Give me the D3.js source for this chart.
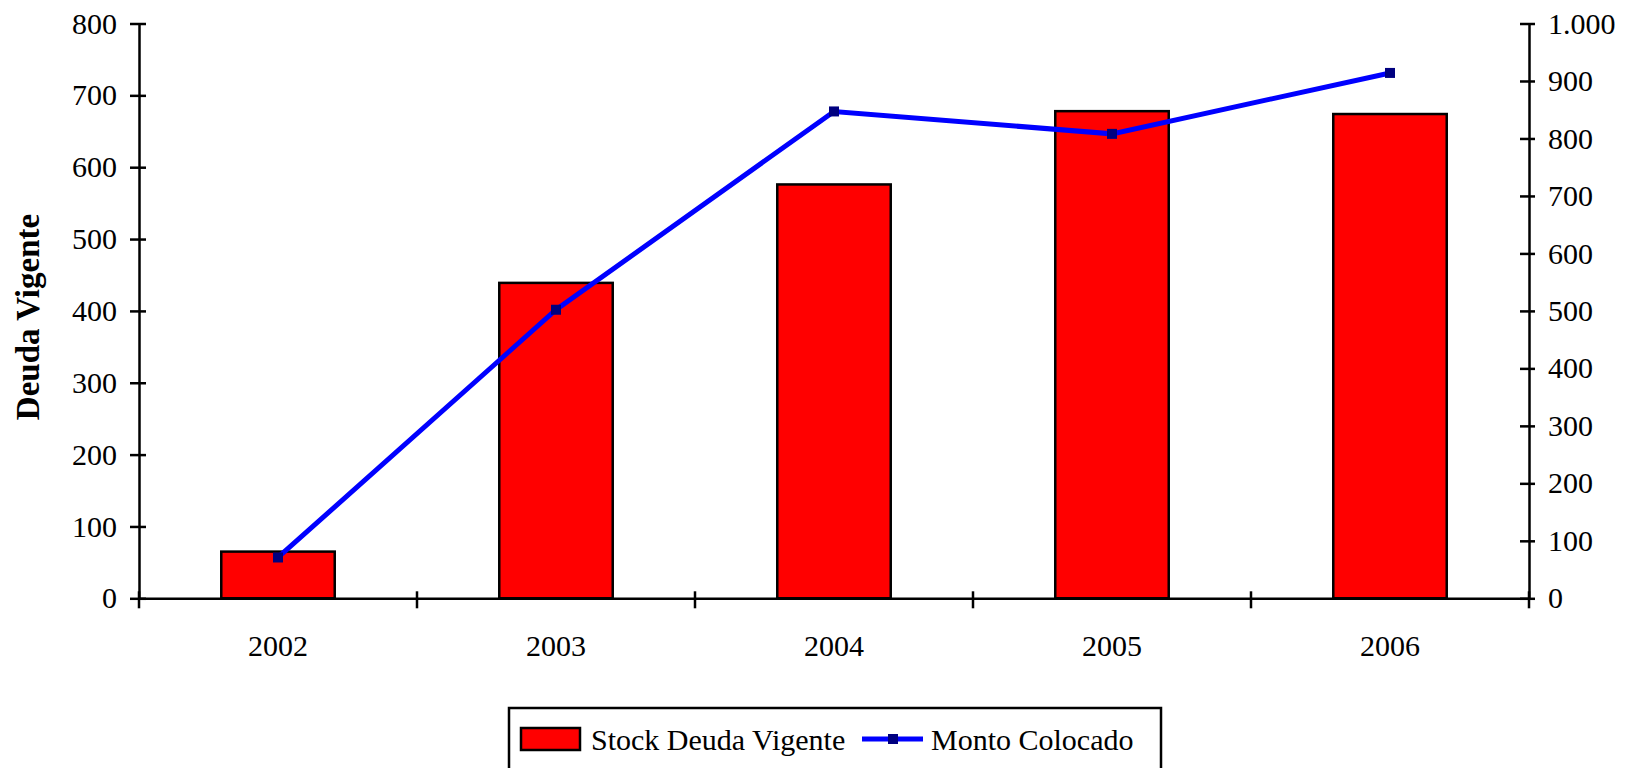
<!DOCTYPE html>
<html>
<head>
<meta charset="utf-8">
<script src="https://cdn.jsdelivr.net/npm/d3@7"></script>
<style>
  body { margin: 0; background: #fff; }
  svg text { font-family: "Liberation Serif", "Times New Roman", serif; fill: #000; }
</style>
</head>
<body>
<svg id="chart" width="1629" height="768"></svg>
<script>
(function () {

    // data
    var years = ["2002", "2003", "2004", "2005", "2006"];
    var stockDeuda = [65, 439, 576, 678, 674];     // left axis, bars
    var montoColocado = [71, 502, 847, 808, 914];  // right axis, line
    var leftTicks = [0, 100, 200, 300, 400, 500, 600, 700, 800];
    var rightTicks = [0, 100, 200, 300, 400, 500, 600, 700, 800, 900, 1000];

    var x0 = 139, x1 = 1529, yTop = 23.5, yBottom = 598.3;

    var svg = d3.select("#chart");

    // number format with "." as thousands separator
    var fmt = d3.formatLocale({ decimal: ",", thousands: ".", grouping: [3], currency: ["", ""] }).format(",");

    var x = d3.scaleBand()
        .domain(years)
        .range([x0, x1])
        .padding(0);

    var yLeft = d3.scaleLinear().domain([0, 800]).range([yBottom, yTop]);
    var yRight = d3.scaleLinear().domain([0, 1000]).range([yBottom, yTop]);

    var barW = x.bandwidth() / 2.45;

    /* bars */
    svg.selectAll(".bar")
        .data(stockDeuda)
        .enter().append("rect")
        .attr("class", "bar")
        .attr("x", function (d, i) { return x(years[i]) + x.bandwidth() / 2 - barW / 2; })
        .attr("y", function (d) { return yLeft(d); })
        .attr("width", barW)
        .attr("height", function (d) { return yBottom - yLeft(d); })
        .attr("fill", "#ff0000")
        .attr("stroke", "#000")
        .attr("stroke-width", 2.5);

    /* axes */
    var axisLeft = d3.axisLeft(yLeft).tickValues(leftTicks).tickSize(0).tickPadding(22);
    var gl = svg.append("g").attr("transform", "translate(" + x0 + ",0)").call(axisLeft);

    var axisRight = d3.axisRight(yRight).tickValues(rightTicks).tickSize(0).tickPadding(19)
        .tickFormat(function (d) { return fmt(d); });
    var gr = svg.append("g").attr("transform", "translate(" + x1 + ",0)").call(axisRight);

    var axisBottom = d3.axisBottom(x).tickSize(0).tickPadding(36);
    var gb = svg.append("g").attr("transform", "translate(0," + yBottom + ")").call(axisBottom);

    [gl, gr, gb].forEach(function (g) {
        g.select(".domain").attr("stroke", "#000").attr("stroke-width", 2.5);
        g.selectAll("text")
            .style("font-family", "Liberation Serif")
            .style("font-size", "30px")
            .attr("fill", "#000");
    });

    // crossing tick marks
    gl.selectAll(".tick").append("line")
        .attr("x1", -9).attr("x2", 7).attr("stroke", "#000").attr("stroke-width", 2.5);
    gr.selectAll(".tick").append("line")
        .attr("x1", -9).attr("x2", 6).attr("stroke", "#000").attr("stroke-width", 2.5);

    var bounds = [x0].concat(years.map(function (d) { return x(d) + x.bandwidth(); }));
    svg.selectAll(".xtick")
        .data(bounds)
        .enter().append("line")
        .attr("class", "xtick")
        .attr("x1", function (d) { return d; })
        .attr("x2", function (d) { return d; })
        .attr("y1", yBottom - 7)
        .attr("y2", yBottom + 10)
        .attr("stroke", "#000")
        .attr("stroke-width", 2.5);

    /* line series */
    var line = d3.line()
        .x(function (d, i) { return x(years[i]) + x.bandwidth() / 2; })
        .y(function (d) { return yRight(d); });

    svg.append("path")
        .datum(montoColocado)
        .attr("d", line)
        .attr("fill", "none")
        .attr("stroke", "#0000ff")
        .attr("stroke-width", 5);

    svg.selectAll(".marker")
        .data(montoColocado)
        .enter().append("rect")
        .attr("class", "marker")
        .attr("x", function (d, i) { return x(years[i]) + x.bandwidth() / 2 - 5; })
        .attr("y", function (d) { return yRight(d) - 5; })
        .attr("width", 10)
        .attr("height", 10)
        .attr("fill", "#000080");

    /* y axis title */
    svg.append("text")
        .attr("transform", "translate(39,317) rotate(-90)")
        .attr("text-anchor", "middle")
        .style("font-weight", "bold")
        .style("font-size", "33px")
        .text("Deuda Vigente");

    /* legend */
    var legend = svg.append("g");
    legend.append("rect")
        .attr("x", 509).attr("y", 708)
        .attr("width", 652).attr("height", 80)
        .attr("fill", "none").attr("stroke", "#000").attr("stroke-width", 2.5);

    legend.append("rect")
        .attr("x", 521).attr("y", 728).attr("width", 59).attr("height", 22)
        .attr("fill", "#ff0000").attr("stroke", "#000").attr("stroke-width", 2.5);
    legend.append("text")
        .attr("x", 591).attr("y", 750)
        .style("font-size", "30px")
        .text("Stock Deuda Vigente");

    legend.append("line")
        .attr("x1", 862).attr("x2", 923).attr("y1", 739).attr("y2", 739)
        .attr("stroke", "#0000ff").attr("stroke-width", 5);
    legend.append("rect")
        .attr("x", 888).attr("y", 734).attr("width", 10).attr("height", 10)
        .attr("fill", "#000080");
    legend.append("text")
        .attr("x", 931).attr("y", 750)
        .style("font-size", "30px")
        .text("Monto Colocado");
})();
</script>
</body>
</html>
